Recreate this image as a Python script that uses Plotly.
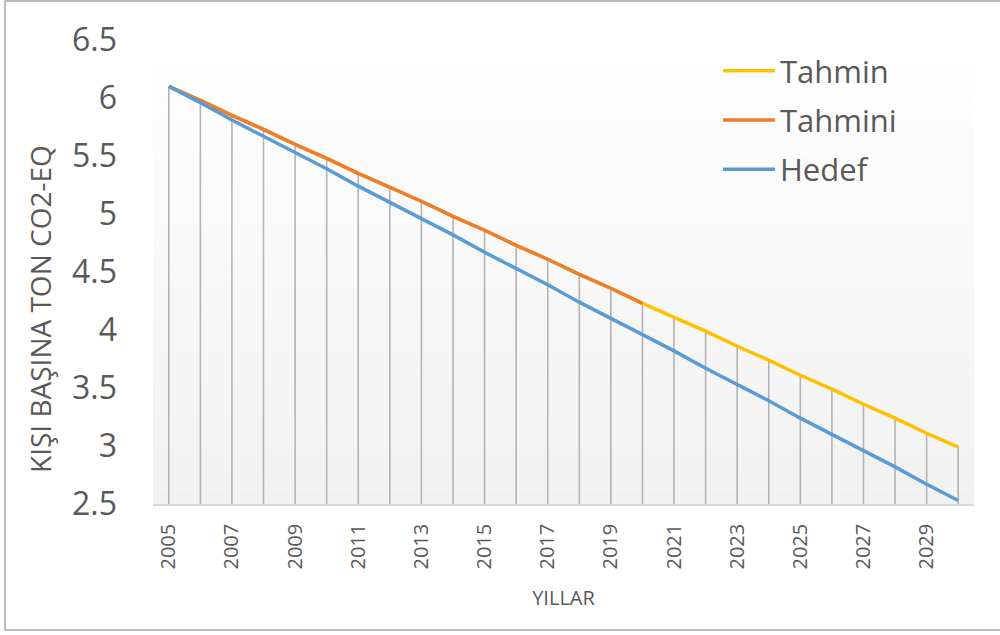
import plotly.graph_objects as go

# Years on the category axis
years = list(range(2005, 2031))
tick_years = list(range(2005, 2030, 2))

# Per-capita emissions, tonnes CO2-eq
tahmin = [6.10, 5.98, 5.85, 5.73, 5.60, 5.48, 5.35, 5.23, 5.11, 4.98,
          4.86, 4.73, 4.61, 4.48, 4.36, 4.23, 4.11, 3.99, 3.86, 3.74,
          3.61, 3.49, 3.36, 3.24, 3.11, 2.99]
tahmini = [6.10, 5.98, 5.85, 5.73, 5.60, 5.48, 5.35, 5.23, 5.11, 4.98,
           4.86, 4.73, 4.61, 4.48, 4.36, 4.23]
hedef = [6.10, 5.96, 5.81, 5.67, 5.53, 5.39, 5.24, 5.10, 4.96, 4.82,
         4.67, 4.53, 4.39, 4.24, 4.10, 3.96, 3.82, 3.67, 3.53, 3.39,
         3.24, 3.10, 2.96, 2.82, 2.67, 2.53]

y_min, y_max = 2.5, 6.5
FONT = "Open Sans"
TEXT = "#595959"

# Drop lines: from the highest series value at each year down to the axis floor
top_vals = [max(v for v in (tahmin[i], hedef[i],
                            tahmini[i] if i < len(tahmini) else None) if v is not None)
            for i in range(len(years))]

fig = go.Figure()
fig.add_trace(go.Scatter(
    x=years, y=top_vals, mode="markers", marker=dict(size=0.1, opacity=0),
    showlegend=False, hoverinfo="skip",
    error_y=dict(type="data", symmetric=False,
                 array=[0] * len(years),
                 arrayminus=[v - y_min for v in top_vals],
                 width=0, thickness=1.6, color="#b3b3b3"),
))
fig.add_trace(go.Scatter(x=years, y=tahmin, mode="lines", name="Tahmin",
                         legendgroup="a",
                         line=dict(color="#FFC000", width=3.5)))
fig.add_trace(go.Scatter(x=years[:len(tahmini)], y=tahmini, mode="lines",
                         name="Tahmini", legendgroup="b",
                         line=dict(color="#ED7D31", width=3.5)))
fig.add_trace(go.Scatter(x=years, y=hedef, mode="lines", name="Hedef",
                         legendgroup="c",
                         line=dict(color="#5B9BD5", width=3.5)))

# Soft vertical gradient behind the plot area (light grey at the bottom to white)
shapes = []
n_bands = 60
for k in range(n_bands):
    t = k / (n_bands - 1)
    c = int(round(241 + (255 - 241) * t))
    shapes.append(dict(type="rect", xref="paper", yref="paper",
                       x0=0, x1=1, y0=k / n_bands, y1=(k + 1) / n_bands,
                       fillcolor=f"rgb({c},{c},{c})", line=dict(width=0),
                       layer="below"))

# Outer chart border
L, R, T, B = 153, 26, 40, 131
W, H = 1000, 635
pw, ph = W - L - R, H - T - B
def px(xp):
    return (xp - L) / pw
def py(yp):
    return (H - B - yp) / ph
shapes.append(dict(type="rect", xref="paper", yref="paper",
                   x0=px(5), x1=px(1003), y0=py(630), y1=py(1),
                   line=dict(color="#a6a6a6", width=1.5),
                   fillcolor="rgba(0,0,0,0)", layer="above"))

fig.update_layout(
    width=W, height=H,
    margin=dict(l=L, r=R, t=T, b=B),
    paper_bgcolor="white", plot_bgcolor="white",
    font=dict(family=FONT, color=TEXT),
    shapes=shapes,
    showlegend=True,
    legend=dict(x=px(718), y=py(44), xanchor="left", yanchor="top",
                bgcolor="rgba(0,0,0,0)", font=dict(size=31, color=TEXT),
                itemwidth=52, traceorder="grouped", tracegroupgap=6),
    xaxis=dict(range=[2004.5, 2030.5], tickvals=tick_years,
               ticktext=[str(y) for y in tick_years], tickangle=-90,
               tickfont=dict(size=20, color=TEXT), ticks="",
               showgrid=False, zeroline=False, showline=True,
               linecolor="#d9d9d9", linewidth=1.5,
               ticklabelstandoff=10,
               title=dict(text="YILLAR", font=dict(size=20, color=TEXT),
                          standoff=22)),
    yaxis=dict(range=[y_min, y_max], dtick=0.5, tickformat="",
               tickfont=dict(size=32, color=TEXT), ticks="",
               showgrid=False, zeroline=False, showline=False,
               ticklabelstandoff=35),
    annotations=[dict(text="KIŞI BAŞINA TON CO2-EQ", xref="paper", yref="paper",
                      x=px(40), y=py(309), xanchor="center", yanchor="middle",
                      textangle=-90, showarrow=False,
                      font=dict(size=28, color=TEXT))],
)

fig.write_html("out.html")
